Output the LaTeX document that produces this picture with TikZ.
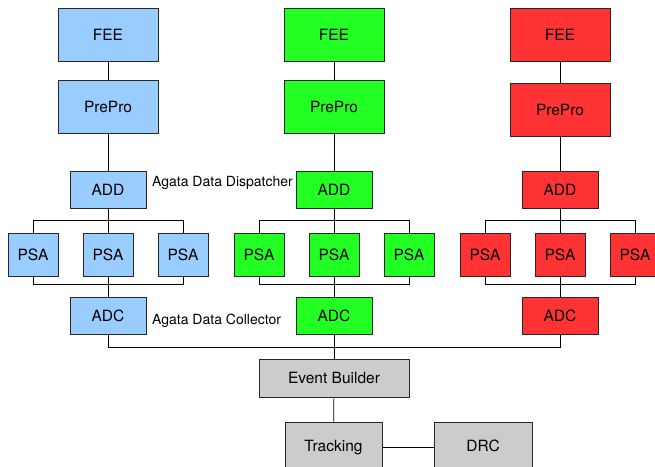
\documentclass[tikz,border=0pt]{standalone}
\usepackage{fontspec}
\setmainfont{TeX Gyre Heros}
\definecolor{detblue}{HTML}{99CCFF}
\definecolor{detgreen}{HTML}{22FF22}
\definecolor{detred}{HTML}{FF3333}
\definecolor{evgray}{HTML}{CCCCCC}
\begin{document}
\begin{tikzpicture}[x=1pt,y=-1pt,
    box/.style={draw=black!85, line width=0.8pt, font=\fontsize{15.5}{18}\selectfont, inner sep=0pt},
    bigbox/.style={box, minimum width=100pt, minimum height=53pt},
    midbox/.style={box, minimum width=76pt, minimum height=37pt},
    psabox/.style={box, minimum width=50pt, minimum height=43pt},
    endbox/.style={box, fill=evgray, minimum height=50pt, text height=11pt, text depth=3pt},
    lbl/.style={font=\fontsize{14}{16}\selectfont, inner sep=0pt, anchor=west},
    wire/.style={draw=black, line width=0.7pt}]
      \useasboundingbox (0,0) rectangle (655,466);

      % First detector (blue).
      \node [bigbox, fill=detblue] (feeB) at (108,34.5) {FEE};
      \node [bigbox, fill=detblue] (preB) at (108,106.5) {PrePro};
      \node [midbox, fill=detblue] (addB) at (108,189.5) {ADD};
      \node [psabox, fill=detblue] (psaBa) at (33,254.5) {PSA};
      \node [psabox, fill=detblue] (psaBb) at (108,254.5) {PSA};
      \node [psabox, fill=detblue] (psaBc) at (183,254.5) {PSA};
      \node [midbox, fill=detblue] (adcB) at (108,315.5) {ADC};

      % Second detector (green).
      \node [bigbox, fill=detgreen] (feeG) at (334,34.5) {FEE};
      \node [bigbox, fill=detgreen] (preG) at (334,106.5) {PrePro};
      \node [midbox, fill=detgreen] (addG) at (334,189.5) {ADD};
      \node [psabox, fill=detgreen] (psaGa) at (259,254.5) {PSA};
      \node [psabox, fill=detgreen] (psaGb) at (334,254.5) {PSA};
      \node [psabox, fill=detgreen] (psaGc) at (409,254.5) {PSA};
      \node [midbox, fill=detgreen] (adcG) at (334,315.5) {ADC};

      % Third detector (red).
      \node [bigbox, fill=detred] (feeR) at (560,34.5) {FEE};
      \node [bigbox, fill=detred] (preR) at (560,109.5) {PrePro};
      \node [midbox, fill=detred] (addR) at (560,189.5) {ADD};
      \node [psabox, fill=detred] (psaRa) at (485,254.5) {PSA};
      \node [psabox, fill=detred] (psaRb) at (560,254.5) {PSA};
      \node [psabox, fill=detred] (psaRc) at (635,254.5) {PSA};
      \node [midbox, fill=detred] (adcR) at (560,315.5) {ADC};

      % Labels.
      \node [lbl] (dispatch) at (152,183) {Agata Data Dispatcher};
      \node [lbl] (collect) at (152,321) {Agata Data Collector};

      % Common part.
      \node [box, fill=evgray, minimum width=150pt, minimum height=38pt] (evb) at (334,378) {Event Builder};
      \node [endbox, minimum width=97pt] (trk) at (333.5,447) {Tracking};
      \node [endbox, minimum width=98pt] (drc) at (483,447) {DRC};

      % Blue wiring.
      \draw [wire] (feeB) -- (preB);
      \draw [wire] (preB) -- (addB);
      \draw [wire] (addB) -- (psaBb);
      \draw [wire] (psaBa.north) -- ++(0,-12) -| (psaBc.north);
      \draw [wire] (psaBa.south) -- ++(0,8) -| (psaBc.south);
      \draw [wire] (psaBb) -- (adcB);

      % Green wiring.
      \draw [wire] (feeG) -- (preG);
      \draw [wire] (preG) -- (addG);
      \draw [wire] (addG) -- (psaGb);
      \draw [wire] (psaGa.north) -- ++(0,-12) -| (psaGc.north);
      \draw [wire] (psaGa.south) -- ++(0,8) -| (psaGc.south);
      \draw [wire] (psaGb) -- (adcG);

      % Red wiring.
      \draw [wire] (feeR) -- (preR);
      \draw [wire] (preR) -- (addR);
      \draw [wire] (addR) -- (psaRb);
      \draw [wire] (psaRa.north) -- ++(0,-12) -| (psaRc.north);
      \draw [wire] (psaRa.south) -- ++(0,8) -| (psaRc.south);
      \draw [wire] (psaRb) -- (adcR);

      % Collectors to event builder.
      \draw [wire] (adcB.south) -- ++(0,13) -| (adcR.south);
      \draw [wire] (adcG) -- (evb);
      \draw [wire] (evb) -- (trk);
      \draw [wire] (trk) -- (drc);
\end{tikzpicture}
\end{document}
